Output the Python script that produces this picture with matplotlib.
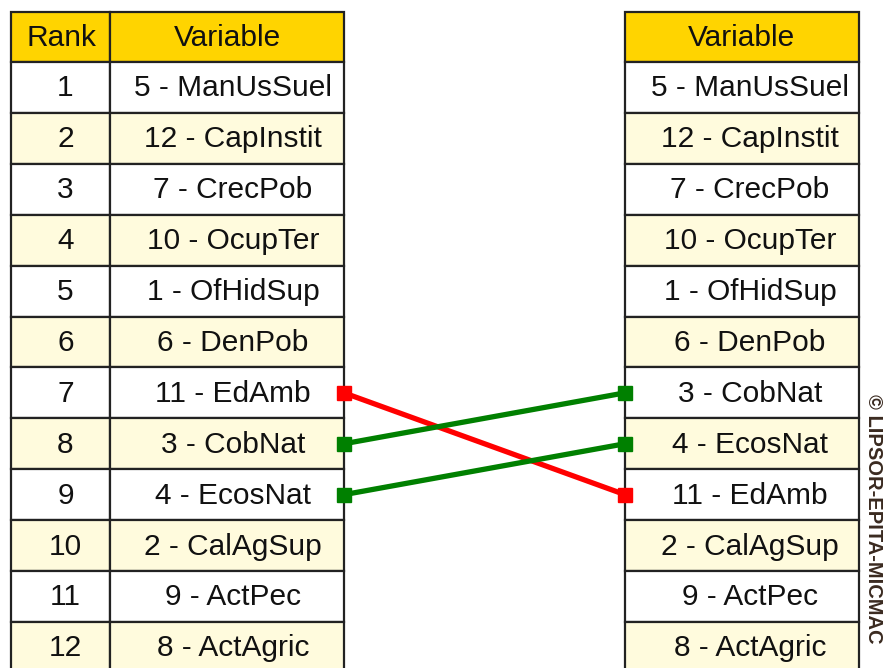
import matplotlib
matplotlib.use("Agg")

import matplotlib.pyplot as plt
from matplotlib.patches import Rectangle


ranks = list(range(1, 13))
left_vars = ["5 - ManUsSuel", "12 - CapInstit", "7 - CrecPob", "10 - OcupTer",
             "1 - OfHidSup", "6 - DenPob", "11 - EdAmb", "3 - CobNat",
             "4 - EcosNat", "2 - CalAgSup", "9 - ActPec", "8 - ActAgric"]
right_vars = ["5 - ManUsSuel", "12 - CapInstit", "7 - CrecPob", "10 - OcupTer",
              "1 - OfHidSup", "6 - DenPob", "3 - CobNat", "4 - EcosNat",
              "11 - EdAmb", "2 - CalAgSup", "9 - ActPec", "8 - ActAgric"]

W, H = 883, 668
TOP = 12
HEAD_H = 50
ROW_H = 50.9
LX0, LX1, LX2 = 11, 110, 344
RX0, RX1 = 625, 859
GOLD = "#ffd400"
PALE = "#fffbdd"
EDGE = "#222222"
FONT = "Liberation Sans"
FS = 21.5

fig = plt.figure(figsize=(W / 100, H / 100), dpi=100)
ax = fig.add_axes([0, 0, 1, 1])
ax.set_xlim(0, W)
ax.set_ylim(H, 0)
ax.axis("off")


def cell(x0, x1, y0, h, color, text, dx=5):
    ax.add_patch(Rectangle((x0, y0), x1 - x0, h, facecolor=color,
                           edgecolor=EDGE, linewidth=1.6))
    ax.text((x0 + x1) / 2 + dx, y0 + h / 2 + 1, text, ha="center", va="center",
            fontsize=FS, family=FONT, color="#111111")


def row_top(i):
    return TOP + HEAD_H + i * ROW_H


# headers
cell(LX0, LX1, TOP, HEAD_H, GOLD, "Rank", dx=1)
cell(LX1, LX2, TOP, HEAD_H, GOLD, "Variable", dx=0)
cell(RX0, RX1, TOP, HEAD_H, GOLD, "Variable", dx=0)

for i, (r, lv, rv) in enumerate(zip(ranks, left_vars, right_vars)):
    bg = PALE if i % 2 == 1 else "white"
    y0 = row_top(i)
    cell(LX0, LX1, y0, ROW_H, bg, str(r))
    cell(LX1, LX2, y0, ROW_H, bg, lv, dx=6)
    cell(RX0, RX1, y0, ROW_H, bg, rv, dx=8)

# links for variables whose rank changed
for i, name in enumerate(left_vars):
    j = right_vars.index(name)
    if i == j:
        continue
    color = "#ff0000" if j > i else "#008000"
    y_a = row_top(i) + ROW_H / 2
    y_b = row_top(j) + ROW_H / 2
    ax.plot([LX2, RX0], [y_a, y_b], color=color, linewidth=3.8,
            marker="s", markersize=10, solid_capstyle="butt", zorder=5)

ax.text(873, 394, "\u00a9 LIPSOR-EPITA-MICMAC", rotation=-90, ha="center",
        va="top", fontsize=14.5, family=FONT, fontweight="bold", color="#3a2a20")

fig.savefig("out.png", dpi=100)
